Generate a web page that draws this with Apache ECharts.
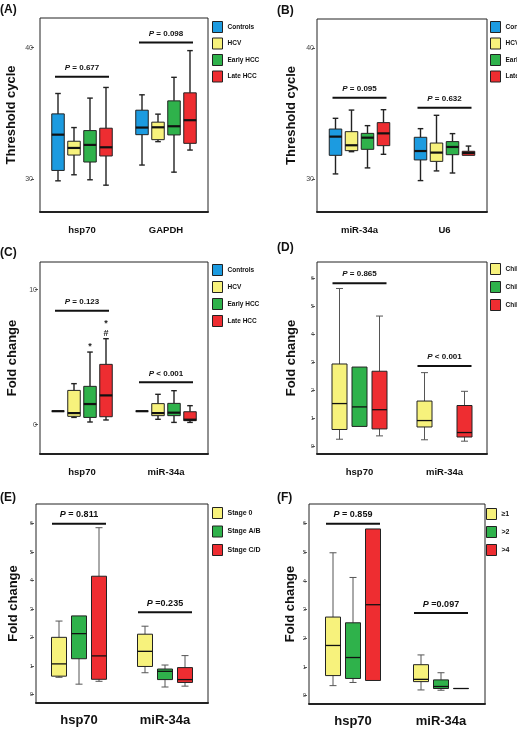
<!DOCTYPE html>
<html><head><meta charset="utf-8">
<script src="https://cdn.jsdelivr.net/npm/echarts@6/dist/echarts.min.js"></script>
<style>html,body{margin:0;padding:0;background:#fff}#c{width:517px;height:747px}</style>
</head><body><div id="c"></div>
<script>
// ---------------- DATA: each entry is [min, Q1, median, Q3, max] per category ----------------
// Panel A
const catsA = ['hsp70', 'GAPDH'];
const groupsA = ['Controls', 'HCV', 'Early HCC', 'Late HCC'];
const A_controls = [[29.87, 30.66, 33.38, 34.96, 36.51], [31.07, 33.38, 33.92, 35.24, 36.41]];
const A_hcv      = [[30.33, 31.83, 32.37, 32.88, 33.92], [32.85, 33.00, 33.94, 34.33, 34.94]];
const A_early    = [[29.95, 31.30, 32.60, 33.69, 36.16], [30.53, 33.36, 34.02, 35.95, 37.74]];
const A_late     = [[29.54, 31.76, 32.42, 33.87, 36.97], [32.21, 32.72, 34.48, 36.56, 39.77]];
const A_pText = ['P = 0.677', 'P = 0.098'];
const A_pLevel = [37.79, 40.38];
const A_ticks = [30, 40];
// Panel B
const catsB = ['miR-34a', 'U6'];
const B_controls = [[30.41, 31.83, 33.26, 33.84, 34.66], [29.90, 31.48, 32.16, 33.21, 33.87]];
const B_hcv      = [[32.11, 32.19, 32.60, 33.64, 35.29], [30.64, 31.37, 32.04, 32.77, 34.89]];
const B_early    = [[30.87, 32.29, 33.18, 33.51, 34.10], [30.48, 31.88, 32.47, 32.88, 33.49]];
const B_late     = [[31.91, 32.57, 33.51, 34.33, 35.32], [31.83, 31.83, 32.01, 32.14, 32.54]];
const B_pText = ['P = 0.095', 'P = 0.632'];
const B_pLevel = [36.23, 35.47];
// Panel C
const catsC = ['hsp70', 'miR-34a'];
const C_controls = [[1, 1, 1, 1, 1], [1, 1, 1, 1, 1]];
const C_hcv      = [[0.54, 0.62, 0.86, 2.54, 3.04], [0.40, 0.67, 0.86, 1.56, 2.25]];
const C_early    = [[0.20, 0.54, 1.53, 2.84, 5.38], [0.17, 0.67, 0.89, 1.58, 2.52]];
const C_late     = [[0.35, 0.59, 2.17, 4.47, 6.37], [0.17, 0.30, 0.37, 0.96, 1.41]];
const C_marks = [[0, 2, 5.80, '*'], [0, 3, 6.77, '#'], [0, 3, 7.46, '*']]; // [category, group, value, symbol]
const C_pText = ['P = 0.123', 'P < 0.001'];
const C_pLevel = [8.44, 3.14];
const C_ticks = [0, 10];
// Panel D
const catsD = ['hsp70', 'miR-34a'];
const groupsD = ['Child A', 'Child B', 'Child C'];
const D_childA = [[0.24, 0.59, 1.52, 2.94, 5.65], [0.22, 0.68, 0.91, 1.61, 2.63]];
const D_childB = [[0.70, 0.70, 1.40, 2.83, 2.83], null];
const D_childC = [[0.36, 0.61, 1.30, 2.68, 4.66], [0.17, 0.32, 0.48, 1.45, 1.96]];
const D_pText = ['P = 0.865', 'P < 0.001'];
const D_pLevel = [5.84, 2.87];
const DEF_ticks = [0, 1, 2, 3, 4, 5, 6];
// Panel E
const catsE = ['hsp70', 'miR-34a'];
const groupsE = ['Stage 0', 'Stage A/B', 'Stage C/D'];
const E_stage0  = [[0.61, 0.65, 1.08, 2.01, 2.58], [0.77, 0.99, 1.52, 2.12, 2.40]];
const E_stageAB = [[0.37, 1.26, 2.14, 2.76, 2.76], [0.27, 0.53, 0.82, 0.90, 1.04]];
const E_stageCD = [[0.47, 0.54, 1.36, 4.15, 5.85], [0.30, 0.43, 0.53, 0.95, 1.37]];
const E_pText = ['P = 0.811', 'P =0.235'];
const E_pLevel = [5.99, 2.89];
// Panel F
const catsF = ['hsp70', 'miR-34a'];
const groupsF = ['\u22651', '>2', '>4'];
const F_ge1 = [[0.35, 0.70, 1.75, 2.74, 4.98], [0.20, 0.49, 0.57, 1.08, 1.42]];
const F_gt2 = [[0.46, 0.60, 1.33, 2.54, 4.12], [0.19, 0.25, 0.32, 0.55, 0.80]];
const F_gt4 = [[0.53, 0.53, 3.17, 5.81, 5.81], [0.25, 0.25, 0.25, 0.25, 0.25]];
const F_pText = ['P = 0.859', 'P =0.097'];
const F_pLevel = [5.99, 2.88];

// ---------------- STYLE ----------------
const BLUE = '#1c9be0', YELLOW = '#f7f27c', GREEN = '#2fb24b', RED = '#ee2d31';
const NARROW = '"Liberation Sans Narrow","Liberation Sans",Arial,sans-serif';
const SANS = '"Liberation Sans",Arial,sans-serif';

const panels = [
  {left: 40, top: 18, width: 168, height: 194, min: 27.5, max: 42.25, ticks: A_ticks, offset: 6, cats: catsA, name: 'Threshold cycle', nameGap: 16, big: false},
  {left: 317, top: 19, width: 170, height: 193, min: 27.5, max: 42.25, ticks: A_ticks, offset: 2, cats: catsB, name: 'Threshold cycle', nameGap: 17, big: false},
  {left: 40, top: 262, width: 168, height: 192, min: -2.17, max: 12.05, ticks: C_ticks, offset: 2, cats: catsC, name: 'Fold change', nameGap: 19, big: false},
  {left: 317, top: 262, width: 170, height: 192, min: -0.29, max: 6.6, ticks: DEF_ticks, offset: 2, cats: catsD, name: 'Fold change', nameGap: 17, big: false},
  {left: 36, top: 504, width: 172, height: 199, min: -0.29, max: 6.68, ticks: DEF_ticks, offset: 2, cats: catsE, name: 'Fold change', nameGap: 14, big: true},
  {left: 309, top: 504, width: 176, height: 200, min: -0.29, max: 6.68, ticks: DEF_ticks, offset: 2, cats: catsF, name: 'Fold change', nameGap: 10, big: true}
];

const grids = [], xAxes = [], yAxes = [], series = [];
panels.forEach((p, i) => {
  grids.push({left: p.left, top: p.top, width: p.width, height: p.height, show: true, borderColor: '#222', borderWidth: 1});
  xAxes.push({
    type: 'category', gridIndex: i, data: p.cats,
    axisLine: {onZero: false, lineStyle: {color: '#222', width: 2}},
    axisTick: {alignWithLabel: true, length: 5, lineStyle: {color: '#222'}},
    axisLabel: {margin: p.big ? 11 : 13, fontSize: p.big ? 13 : 9.5, fontWeight: 'bold', color: '#111', fontFamily: NARROW},
    splitLine: {show: false}
  });
  yAxes.push({
    type: 'value', gridIndex: i, min: p.min, max: p.max, offset: p.offset,
    axisLine: {show: false},
    axisTick: {show: true, length: 3, customValues: p.ticks, lineStyle: {color: '#555'}},
    axisLabel: {customValues: p.ticks, fontSize: p.ticks.length > 2 ? 6 : 7, color: '#444', margin: 1, fontFamily: SANS},
    splitLine: {show: false},
    name: p.name, nameLocation: 'middle', nameGap: p.nameGap,
    nameTextStyle: {fontSize: 13, fontWeight: 'bold', color: '#111', fontFamily: SANS}
  });
});

function boxSeries(pi, name, color, slot, nSlots, rows) {
  const spacing = nSlots === 4 ? 16 : 20;
  const w = nSlots === 4 ? 12.5 : 15;
  const thin = nSlots !== 4;
  const data = [];
  rows.forEach((r, ci) => { if (r) data.push([ci].concat(r)); });
  return {
    type: 'custom', name: name, xAxisIndex: pi, yAxisIndex: pi, z: 3,
    itemStyle: {color: color},
    encode: {x: 0, y: [1, 2, 3, 4, 5]},
    data: data,
    renderItem: function (params, api) {
      const c = api.value(0);
      const cx = api.coord([c, 0])[0] + (slot - (nSlots - 1) / 2) * spacing;
      const v = [1, 2, 3, 4, 5].map(k => api.value(k));
      const y = v.map(val => api.coord([c, val])[1]);
      const wc = thin ? '#555' : '#222';
      const wl = thin ? 1 : 1.4;
      const cap = thin ? 3.5 : 2.8;
      const ch = [];
      if (v[4] > v[3]) {
        ch.push({type: 'line', shape: {x1: cx, y1: y[3], x2: cx, y2: y[4]}, style: {stroke: wc, lineWidth: wl}});
        ch.push({type: 'line', shape: {x1: cx - cap, y1: y[4], x2: cx + cap, y2: y[4]}, style: {stroke: wc, lineWidth: wl}});
      }
      if (v[0] < v[1]) {
        ch.push({type: 'line', shape: {x1: cx, y1: y[1], x2: cx, y2: y[0]}, style: {stroke: wc, lineWidth: wl}});
        ch.push({type: 'line', shape: {x1: cx - cap, y1: y[0], x2: cx + cap, y2: y[0]}, style: {stroke: wc, lineWidth: wl}});
      }
      ch.push({type: 'rect', shape: {x: cx - w / 2, y: y[3], width: w, height: y[1] - y[3]},
        style: {fill: color, stroke: '#222', lineWidth: 1}});
      ch.push({type: 'line', shape: {x1: cx - w / 2, y1: y[2], x2: cx + w / 2, y2: y[2]},
        style: {stroke: '#111', lineWidth: thin ? 1.3 : 2.2}});
      return {type: 'group', children: ch};
    }
  };
}

function pSeries(pi, texts, levels, big) {
  return {
    type: 'custom', xAxisIndex: pi, yAxisIndex: pi, silent: true, z: 5,
    data: levels.map((l, i) => [i, l]),
    renderItem: function (params, api) {
      const pt = api.coord([api.value(0), api.value(1)]);
      const t = texts[params.dataIndex];
      const fs = big ? 9 : 8;
      return {type: 'group', children: [
        {type: 'line', shape: {x1: pt[0] - 27, y1: pt[1], x2: pt[0] + 27, y2: pt[1]}, style: {stroke: '#111', lineWidth: 2}},
        {type: 'text', x: pt[0], y: pt[1] - 9, style: {
          text: '{i|P}{n|' + t.slice(1) + '}', align: 'center', verticalAlign: 'middle',
          rich: {
            i: {fontStyle: 'italic', fontWeight: 'bold', fontSize: fs, fontFamily: NARROW, fill: '#111'},
            n: {fontWeight: 'bold', fontSize: fs, fontFamily: NARROW, fill: '#111'}
          }
        }}
      ]};
    }
  };
}

// Panel A
[A_controls, A_hcv, A_early, A_late].forEach((rows, s) => series.push(boxSeries(0, groupsA[s], [BLUE, YELLOW, GREEN, RED][s], s, 4, rows)));
series.push(pSeries(0, A_pText, A_pLevel, false));
// Panel B
[B_controls, B_hcv, B_early, B_late].forEach((rows, s) => series.push(boxSeries(1, groupsA[s], [BLUE, YELLOW, GREEN, RED][s], s, 4, rows)));
series.push(pSeries(1, B_pText, B_pLevel, false));
// Panel C
[C_controls, C_hcv, C_early, C_late].forEach((rows, s) => series.push(boxSeries(2, groupsA[s], [BLUE, YELLOW, GREEN, RED][s], s, 4, rows)));
series.push(pSeries(2, C_pText, C_pLevel, false));
series.push({
  type: 'custom', xAxisIndex: 2, yAxisIndex: 2, silent: true, z: 6,
  data: C_marks.map(m => [m[0], m[2], m[1]]),
  renderItem: function (params, api) {
    const c = api.value(0);
    const slot = api.value(2);
    const pt = api.coord([c, api.value(1)]);
    return {type: 'text', x: pt[0] + (slot - 1.5) * 16, y: pt[1],
      style: {text: C_marks[params.dataIndex][3], align: 'center', verticalAlign: 'middle', fontSize: 9, fontWeight: 'bold', fontFamily: SANS, fill: '#222'}};
  }
});
// Panel D
[D_childA, D_childB, D_childC].forEach((rows, s) => series.push(boxSeries(3, groupsD[s], [YELLOW, GREEN, RED][s], s, 3, rows)));
series.push(pSeries(3, D_pText, D_pLevel, false));
// Panel E
[E_stage0, E_stageAB, E_stageCD].forEach((rows, s) => series.push(boxSeries(4, groupsE[s], [YELLOW, GREEN, RED][s], s, 3, rows)));
series.push(pSeries(4, E_pText, E_pLevel, true));
// Panel F
[F_ge1, F_gt2, F_gt4].forEach((rows, s) => series.push(boxSeries(5, groupsF[s], [YELLOW, GREEN, RED][s], s, 3, rows)));
series.push(pSeries(5, F_pText, F_pLevel, true));

function legend(names, left, top, gap, fs) {
  return {
    data: names, orient: 'vertical', left: left, top: top, itemWidth: 10, itemHeight: 11, itemGap: gap,
    icon: 'rect', padding: 0, selectedMode: false,
    itemStyle: {borderColor: '#222', borderWidth: 1},
    textStyle: {fontSize: fs, fontWeight: 'bold', color: '#111', fontFamily: NARROW}
  };
}

function panelTitle(t, left, top) {
  return {text: t, left: left, top: top, padding: 0, textStyle: {fontSize: 12, fontWeight: 'bold', color: '#111', fontFamily: SANS}};
}

const chart = echarts.init(document.getElementById('c'), null, {renderer: 'canvas'});
chart.setOption({
  animation: false,
  backgroundColor: '#fff',
  title: [panelTitle('(A)', 0, 4), panelTitle('(B)', 277, 5), panelTitle('(C)', 0, 247), panelTitle('(D)', 277, 242), panelTitle('(E)', 0, 492), panelTitle('(F)', 277, 492)],
  legend: [
    legend(groupsA, 212, 21, 4.5, 6.5),
    legend(groupsA, 490, 21, 4.5, 6.5),
    legend(groupsA, 212, 264, 5, 6.5),
    legend(groupsD, 490, 263, 6, 6.5),
    legend(groupsE, 212, 507, 6.5, 7),
    legend(groupsF, 486, 508, 6, 7)
  ],
  grid: grids, xAxis: xAxes, yAxis: yAxes, series: series
});
</script></body></html>
